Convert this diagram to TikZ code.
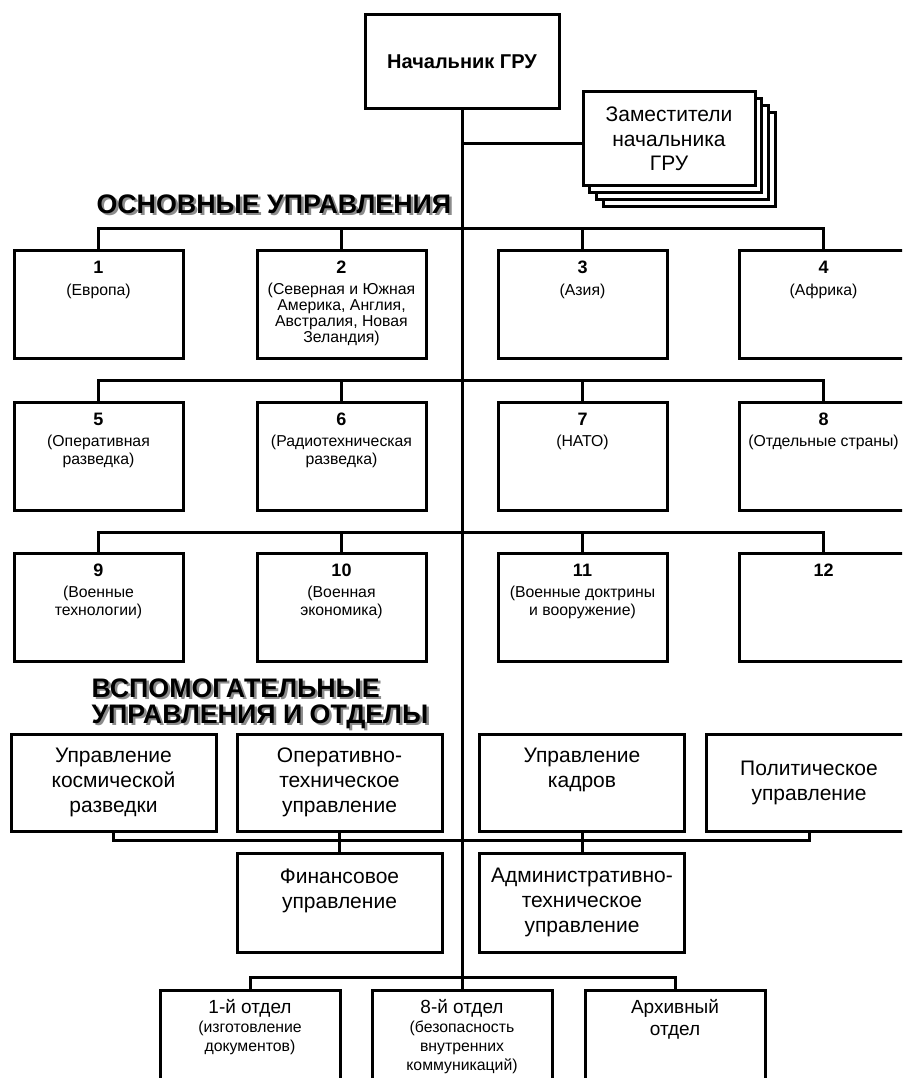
\documentclass[tikz,border=0pt]{standalone}
\usepackage{fontspec}
\setmainfont{Liberation Sans}
\begin{document}
\begin{tikzpicture}[x=1pt, y=-1pt, line width=3pt,
    box/.style={draw, fill=white, anchor=north west, outer sep=0pt, inner sep=0pt},
    dbox/.style={box, minimum width=172pt, minimum height=94pt},
    mbox/.style={box, minimum width=169pt, minimum height=108pt},
    abox/.style={box, minimum width=205pt, minimum height=97pt, align=center, font=\fontsize{21}{25}\selectfont},
    obox/.style={box, minimum width=180pt, minimum height=120pt},
    num/.style={anchor=base, inner sep=0pt, font=\bfseries\fontsize{18}{18}\selectfont},
    sub/.style={anchor=base, inner sep=0pt, align=center, font=\fontsize{15.8}{18}\selectfont},
    big/.style={anchor=base, inner sep=0pt, align=center, font=\fontsize{21}{25}\selectfont},
    hdr/.style={anchor=base west, inner sep=0pt, align=left, font=\bfseries\fontsize{26.8}{26}\selectfont},
    hdrshadow/.style={hdr, text=black!45}]
    \useasboundingbox (0,0) rectangle (902,1078);
    \clip (0,0) rectangle (902,1078);

    % Начальник и заместители
    \node[box, anchor=center, minimum width=194pt, minimum height=94pt, font=\bfseries\fontsize{20}{20}\selectfont] (chief) at (462,62) {Начальник ГРУ};
    \node[dbox] (dep3) at (603.1,112.1) {};
    \node[dbox] (dep2) at (596.4,105.4) {};
    \node[dbox] (dep1) at (589.7,98.7) {};
    \node[dbox, align=center, font=\fontsize{21}{24.5}\selectfont] (dep) at (583,92) {Заместители\\начальника\\ГРУ};
    \coordinate (depj) at (462,144);
    \draw (depj) -- (depj -| dep.west);

    % Заголовки (база по последней строке)
    \node[hdrshadow] (hdr1s) at (97.5,215.5) {ОСНОВНЫЕ УПРАВЛЕНИЯ};
    \node[hdr] (hdr1) at (95,213) {ОСНОВНЫЕ УПРАВЛЕНИЯ};
    \node[hdrshadow] (hdr2s) at (92.5,725.5) {ВСПОМОГАТЕЛЬНЫЕ\\УПРАВЛЕНИЯ И ОТДЕЛЫ};
    \node[hdr] (hdr2) at (90,723) {ВСПОМОГАТЕЛЬНЫЕ\\УПРАВЛЕНИЯ И ОТДЕЛЫ};

    % Основные управления, 1-й ряд
    \node[mbox] (u1) at (14,250) {};
    \node[mbox] (u2) at (257,250) {};
    \node[mbox] (u3) at (498,250) {};
    \node[mbox] (u4) at (739,250) {};
    \node[num] (u1n) at ([yshift=-23.5pt]u1.north) {1};
    \node[num] (u2n) at ([yshift=-23.5pt]u2.north) {2};
    \node[num] (u3n) at ([yshift=-23.5pt]u3.north) {3};
    \node[num] (u4n) at ([yshift=-23.5pt]u4.north) {4};
    \node[sub] (u1t) at ([yshift=-45pt]u1.north) {(Европа)};
    \node[sub, font=\fontsize{15.8}{15.7}\selectfont] (u2t) at ([yshift=-92pt]u2.north) {(Северная и Южная\\Америка, Англия,\\Австралия, Новая\\Зеландия)};
    \node[sub] (u3t) at ([yshift=-45pt]u3.north) {(Азия)};
    \node[sub] (u4t) at ([yshift=-45pt]u4.north) {(Африка)};
    \coordinate (r1) at (462,228);
    \draw (u1.north) |- (r1) -| (u4.north);
    \draw (u2.north) -- (u2.north |- r1);
    \draw (u3.north) -- (u3.north |- r1);

    % 2-й ряд
    \node[mbox] (u5) at (14,402) {};
    \node[mbox] (u6) at (257,402) {};
    \node[mbox] (u7) at (498,402) {};
    \node[mbox] (u8) at (739,402) {};
    \node[num] (u5n) at ([yshift=-23.5pt]u5.north) {5};
    \node[num] (u6n) at ([yshift=-23.5pt]u6.north) {6};
    \node[num] (u7n) at ([yshift=-23.5pt]u7.north) {7};
    \node[num] (u8n) at ([yshift=-23.5pt]u8.north) {8};
    \node[sub] (u5t) at ([yshift=-62pt]u5.north) {(Оперативная\\разведка)};
    \node[sub] (u6t) at ([yshift=-62pt]u6.north) {(Радиотехническая\\разведка)};
    \node[sub] (u7t) at ([yshift=-44pt]u7.north) {(НАТО)};
    \node[sub] (u8t) at ([yshift=-44pt]u8.north) {(Отдельные страны)};
    \coordinate (r2) at (462,380);
    \draw (u5.north) |- (r2) -| (u8.north);
    \draw (u6.north) -- (u6.north |- r2);
    \draw (u7.north) -- (u7.north |- r2);

    % 3-й ряд
    \node[mbox] (u9) at (14,553) {};
    \node[mbox] (u10) at (257,553) {};
    \node[mbox] (u11) at (498,553) {};
    \node[mbox] (u12) at (739,553) {};
    \node[num] (u9n) at ([yshift=-23.5pt]u9.north) {9};
    \node[num] (u10n) at ([yshift=-23.5pt]u10.north) {10};
    \node[num] (u11n) at ([yshift=-23.5pt]u11.north) {11};
    \node[num] (u12n) at ([yshift=-23.5pt]u12.north) {12};
    \node[sub] (u9t) at ([yshift=-62pt]u9.north) {(Военные\\технологии)};
    \node[sub] (u10t) at ([yshift=-62pt]u10.north) {(Военная\\экономика)};
    \node[sub] (u11t) at ([yshift=-62pt]u11.north) {(Военные доктрины\\и вооружение)};
    \coordinate (r3) at (462,532);
    \draw (u9.north) |- (r3) -| (u12.north);
    \draw (u10.north) -- (u10.north |- r3);
    \draw (u11.north) -- (u11.north |- r3);

    % Вспомогательные управления и отделы
    \node[abox] (kosm) at (11,734) {Управление\\космической\\разведки};
    \node[abox] (optech) at (237,734) {Оперативно-\\техническое\\управление};
    \node[abox] (kadr) at (479.5,734) {};
    \node[big] (kadrt) at ([yshift=-53pt]kadr.north) {Управление\\кадров};
    \node[abox] (polit) at (706.5,734) {Политическое\\управление};
    \node[abox, minimum height=99pt] (fin) at (237,853) {};
    \node[big] (fint) at ([yshift=-55pt]fin.north) {Финансовое\\управление};
    \node[abox, minimum height=99pt] (adm) at (479.5,853) {Административно-\\техническое\\управление};
    \coordinate (aj) at (462,840);
    \draw (kosm.south) |- (aj) -| (polit.south);
    \draw (optech.south) -- (fin.north);
    \draw (kadr.south) -- (adm.north);

    % Отделы
    \node[obox] (o1) at (160,990) {};
    \node[obox] (o8) at (372,990) {};
    \node[obox] (arh) at (585,990) {};
    \node[big, font=\fontsize{19}{19}\selectfont] (o1n) at ([yshift=-23pt]o1.north) {1-й отдел};
    \node[sub, font=\fontsize{15.8}{19}\selectfont] (o1t) at ([yshift=-61pt]o1.north) {(изготовление\\документов)};
    \node[big, font=\fontsize{19}{19}\selectfont] (o8n) at ([yshift=-23pt]o8.north) {8-й отдел};
    \node[sub, font=\fontsize{15.8}{19}\selectfont] (o8t) at ([yshift=-80pt]o8.north) {(безопасность\\внутренних\\коммуникаций)};
    \node[big, font=\fontsize{19}{22.5}\selectfont] (arht) at ([yshift=-45.5pt]arh.north) {Архивный\\отдел};
    \coordinate (bj) at (462,977);
    \draw (o1.north) |- (bj) -| (arh.north);

    % Ствол
    \draw (chief.south) -- (o8.north);
\end{tikzpicture}
\end{document}
